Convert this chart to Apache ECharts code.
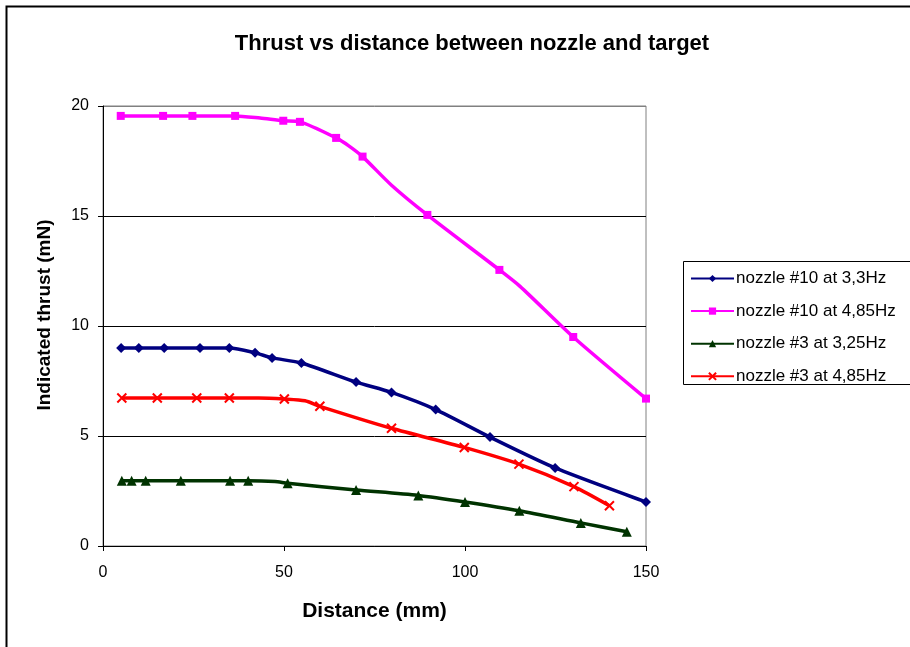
<!DOCTYPE html>
<html>
<head>
<meta charset="utf-8">
<script src="https://cdn.jsdelivr.net/npm/echarts@6/dist/echarts.min.js"></script>
<style>
  html, body { margin: 0; padding: 0; background: #fff; }
  #chart { width: 910px; height: 647px; }
</style>
</head>
<body>
<div id="chart"></div>
<script>
// series names
const seriesNames = ['nozzle #10 at 3,3Hz', 'nozzle #10 at 4,85Hz', 'nozzle #3 at 3,25Hz', 'nozzle #3 at 4,85Hz'];

// measured points [distance mm, thrust mN] (with markers)
const n10Low = [[5, 9.0], [9.9, 9.0], [16.9, 9.0], [26.8, 9.0], [34.9, 9.0], [42, 8.78], [46.7, 8.55], [54.8, 8.32],
  [69.9, 7.45], [79.7, 6.98], [91.9, 6.2], [106.9, 4.95], [124.9, 3.55], [150, 2.0]];
const n10High = [[4.9, 19.55], [16.6, 19.55], [24.7, 19.55], [36.5, 19.55], [49.8, 19.33], [54.4, 19.28], [64.4, 18.55],
  [71.7, 17.7], [89.6, 15.05], [109.5, 12.55], [129.9, 9.5], [150, 6.7]];
const n3Low = [[5.2, 2.97], [7.9, 2.97], [11.8, 2.97], [21.5, 2.97], [35.1, 2.97], [40.1, 2.97], [51, 2.85], [69.9, 2.55],
  [87.1, 2.3], [100, 2.0], [115, 1.6], [132, 1.05], [144.7, 0.65]];
const n3High = [[5.2, 6.73], [15, 6.73], [25.9, 6.73], [34.9, 6.73], [50.1, 6.68], [59.9, 6.35], [79.7, 5.35],
  [99.8, 4.48], [114.9, 3.72], [130.1, 2.7], [139.9, 1.83]];

// extra bends in the drawn lines (no marker shown)
const n10LowBends = [];
const n10HighBends = [[43.4, 19.45], [67.8, 18.2], [79.7, 16.4], [115.2, 11.8]];
const n3LowBends = [[47.5, 2.93]];
const n3HighBends = [[43, 6.73], [55.8, 6.6]];

const xTicks = [0, 50, 100, 150];
const yTicks = [0, 5, 10, 15, 20];

const FONT = '"Liberation Sans", Arial, sans-serif';

function mergePoints(marked, bends) {
  const pts = marked.map(p => ({ value: p }));
  bends.forEach(p => pts.push({ value: p, symbol: 'none' }));
  pts.sort((a, b) => a.value[0] - b.value[0]);
  return pts;
}

const crossPath = 'path://M0,0L10,10M10,0L0,10';

const styles = [
  { color: '#000080', symbol: 'diamond', size: 10 },
  { color: '#ff00ff', symbol: 'rect', size: 8 },
  { color: '#003300', symbol: 'triangle', size: 10 },
  { color: '#ff0000', symbol: crossPath, size: 9 }
];

const dataSets = [
  mergePoints(n10Low, n10LowBends),
  mergePoints(n10High, n10HighBends),
  mergePoints(n3Low, n3LowBends),
  mergePoints(n3High, n3HighBends)
];

const chart = echarts.init(document.getElementById('chart'));

const option = {
  animation: false,
  backgroundColor: '#fff',
  title: {
    text: 'Thrust vs distance between nozzle and target',
    left: 467,
    textAlign: 'center',
    top: 28,
    textStyle: { fontFamily: FONT, fontSize: 22, fontWeight: 'bold', color: '#000' }
  },
  grid: {
    left: 103, top: 106, right: 264, bottom: 101,
    show: true, borderColor: '#808080', borderWidth: 1, backgroundColor: '#fff'
  },
  legend: {
    orient: 'vertical',
    left: 690,
    top: 270,
    padding: 0,
    itemWidth: 43,
    itemHeight: 9,
    itemGap: 15.6,
    data: seriesNames,
    textStyle: { fontFamily: FONT, fontSize: 17, color: '#000', padding: [0, 0, 0, -3] }
  },
  xAxis: {
    type: 'value',
    min: xTicks[0],
    max: xTicks[xTicks.length - 1],
    interval: 50,
    name: 'Distance (mm)',
    nameLocation: 'middle',
    nameGap: 55,
    nameTextStyle: { fontFamily: FONT, fontSize: 21, fontWeight: 'bold', color: '#000' },
    axisLine: { lineStyle: { color: '#000', width: 1 } },
    axisTick: { show: true, length: 5, lineStyle: { color: '#000' } },
    axisLabel: { fontFamily: FONT, fontSize: 16, color: '#000', margin: 19 },
    splitLine: { show: false }
  },
  yAxis: {
    type: 'value',
    min: yTicks[0],
    max: yTicks[yTicks.length - 1],
    interval: 5,
    axisLine: { show: true, lineStyle: { color: '#000', width: 1 } },
    axisTick: { show: true, length: 5, lineStyle: { color: '#000' } },
    axisLabel: { fontFamily: FONT, fontSize: 16, color: '#000', margin: 14 },
    splitLine: { show: true, lineStyle: { color: ['#000', '#000', '#000', '#000', '#808080'], width: 1 } }
  },
  graphic: [
    { type: 'rect', left: 4, top: 4, shape: { width: 1000, height: 1000 }, style: { fill: 'none', stroke: '#000', lineWidth: 2 }, z: -1 },
    { type: 'rect', left: 683, top: 261, shape: { width: 300, height: 123 }, style: { fill: '#fff', stroke: '#000', lineWidth: 1 }, z: -1 },
    {
      type: 'text', x: 45, y: 315, rotation: Math.PI / 2,
      style: {
        text: 'Indicated thrust (mN)', fontFamily: FONT, fontSize: 19, fontWeight: 'bold', fill: '#000',
        textAlign: 'center', textVerticalAlign: 'middle'
      }
    }
  ],
  series: dataSets.map((data, i) => ({
    name: seriesNames[i],
    type: 'line',
    data: data,
    smooth: 0.25,
    symbol: styles[i].symbol,
    symbolSize: styles[i].size,
    showAllSymbol: true,
    lineStyle: { color: styles[i].color, width: 3.5 },
    itemStyle: i === 3
      ? { color: styles[i].color, borderColor: styles[i].color, borderWidth: 2 }
      : { color: styles[i].color, borderWidth: 0 },
    emphasis: { disabled: true }
  }))
};

chart.setOption(option);
</script>
</body>
</html>
